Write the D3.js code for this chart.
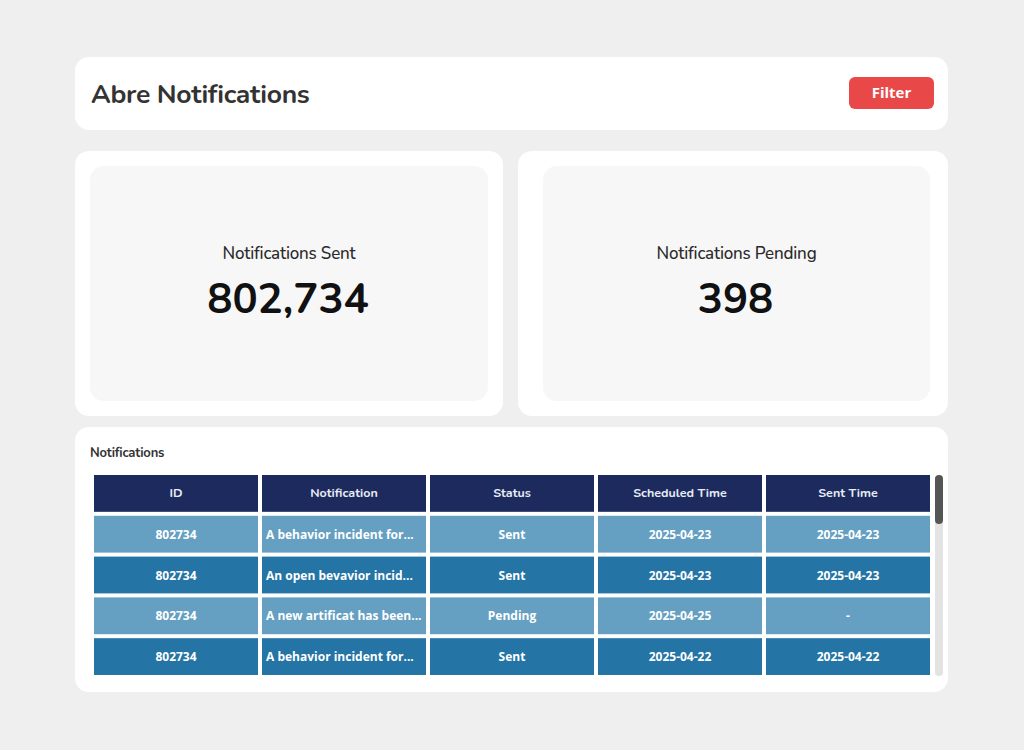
<!DOCTYPE html>
<html>
<head>
<meta charset="utf-8">
<script src="https://cdn.jsdelivr.net/npm/d3@7"></script>
<style>
  html, body { margin: 0; padding: 0; background: #efefef; }
  svg { display: block; }
</style>
</head>
<body>
<script>
// ---- data ----
var pageTitle = "Abre Notifications";
var kpiLabels = ["Notifications Sent", "Notifications Pending"];
var kpiValues = [802734, 398];
var columns = ["ID", "Notification", "Status", "Scheduled Time", "Sent Time"];
var ids = ["802734", "802734", "802734", "802734"];
var messages = ["A behavior incident for...", "An open bevavior incid...", "A new artificat has been...", "A behavior incident for..."];
var statuses = ["Sent", "Sent", "Pending", "Sent"];
var scheduled = ["2025-04-23", "2025-04-23", "2025-04-25", "2025-04-22"];
var sentTimes = ["2025-04-23", "2025-04-23", "-", "2025-04-22"];

var w = 1024, h = 750;
var titleFont = "Nunito, Lato, 'Noto Sans', sans-serif";
var cellFont = "'Open Sans', 'Noto Sans', sans-serif";

var svg = d3.select("body").append("svg")
  .attr("width", w)
  .attr("height", h);

svg.append("rect").attr("width", w).attr("height", h).attr("fill", "#efefef");

// header card
svg.append("rect")
  .attr("x", 75).attr("y", 57).attr("width", 873).attr("height", 73)
  .attr("rx", 14).attr("fill", "#fff");
svg.append("text")
  .attr("x", 91).attr("y", 103)
  .attr("font-family", titleFont).attr("font-weight", 700)
  .attr("font-size", 26.5).attr("fill", "#333")
  .attr("letter-spacing", -0.3)
  .text(pageTitle);
svg.append("rect")
  .attr("x", 849).attr("y", 77).attr("width", 85).attr("height", 32)
  .attr("rx", 6).attr("fill", "#e84848");
svg.append("text")
  .attr("x", 891.5).attr("y", 98)
  .attr("text-anchor", "middle")
  .attr("font-family", cellFont).attr("font-weight", 700)
  .attr("font-size", 15).attr("fill", "#fff")
  .text("Filter");

// KPI cards
var kpiCards = [
  {x: 75, w: 428, ix: 90, iw: 398},
  {x: 518, w: 430, ix: 543, iw: 387}
];
var fmt = d3.format(",");
var kpi = svg.selectAll("g.kpi")
  .data(kpiLabels)
  .enter().append("g").attr("class", "kpi");
kpi.append("rect")
  .attr("x", function(d, i) { return kpiCards[i].x; })
  .attr("y", 151).attr("width", function(d, i) { return kpiCards[i].w; })
  .attr("height", 265).attr("rx", 14).attr("fill", "#fff");
kpi.append("rect")
  .attr("x", function(d, i) { return kpiCards[i].ix; })
  .attr("y", 166).attr("width", function(d, i) { return kpiCards[i].iw; })
  .attr("height", 235).attr("rx", 14).attr("fill", "#f7f7f7");
kpi.append("text")
  .attr("x", function(d, i) { return kpiCards[i].ix + kpiCards[i].iw / 2; })
  .attr("y", 259).attr("text-anchor", "middle")
  .attr("font-family", titleFont).attr("font-weight", 500)
  .attr("font-size", 17).attr("fill", "#2a2a2a")
  .attr("letter-spacing", -0.2)
  .text(function(d) { return d; });
kpi.append("text")
  .attr("x", function(d, i) { return kpiCards[i].ix + kpiCards[i].iw / 2 - 1; })
  .attr("y", 313).attr("text-anchor", "middle")
  .attr("font-family", titleFont).attr("font-weight", 700)
  .attr("font-size", 42).attr("fill", "#111")
  .text(function(d, i) { return fmt(kpiValues[i]); });

// table card
svg.append("rect")
  .attr("x", 75).attr("y", 427).attr("width", 873).attr("height", 265)
  .attr("rx", 14).attr("fill", "#fff");
svg.append("text")
  .attr("x", 90).attr("y", 457)
  .attr("font-family", titleFont).attr("font-weight", 700)
  .attr("font-size", 13).attr("fill", "#333")
  .attr("letter-spacing", -0.2)
  .text("Notifications");

var rows = ids.map(function(id, i) {
  return [id, messages[i], statuses[i], scheduled[i], sentTimes[i]];
});

var xScale = d3.scaleBand()
  .domain(columns)
  .range([94, 930])
  .paddingInner(4 / 168);
var yScale = d3.scaleBand()
  .domain(d3.range(rows.length + 1))
  .range([475, 675])
  .paddingInner(4 / 41);

// header row
var head = svg.append("g").attr("class", "thead");
head.selectAll("rect")
  .data(columns).enter().append("rect")
  .attr("x", function(d) { return xScale(d); })
  .attr("y", yScale(0))
  .attr("width", xScale.bandwidth())
  .attr("height", yScale.bandwidth())
  .attr("fill", "#1d2a5d");
head.selectAll("text")
  .data(columns).enter().append("text")
  .attr("x", function(d) { return xScale(d) + xScale.bandwidth() / 2; })
  .attr("y", yScale(0) + yScale.bandwidth() / 2 + 4)
  .attr("text-anchor", "middle")
  .attr("font-family", titleFont).attr("font-weight", 700)
  .attr("font-size", 12.5).attr("fill", "#e8ecf4")
  .text(function(d) { return d; });

// body rows
var rowColors = ["#659fc1", "#2474a5"];
var row = svg.selectAll("g.row")
  .data(rows).enter().append("g").attr("class", "row");
row.selectAll("rect")
  .data(function(d, i) { return d.map(function(v, j) { return {v: v, r: i, c: columns[j]}; }); })
  .enter().append("rect")
  .attr("x", function(d) { return xScale(d.c); })
  .attr("y", function(d) { return yScale(d.r + 1); })
  .attr("width", xScale.bandwidth())
  .attr("height", yScale.bandwidth())
  .attr("fill", function(d) { return rowColors[d.r % 2]; });
row.selectAll("text")
  .data(function(d, i) { return d.map(function(v, j) { return {v: v, r: i, c: columns[j]}; }); })
  .enter().append("text")
  .attr("x", function(d) {
    return d.c === "Notification" ? xScale(d.c) + 4 : xScale(d.c) + xScale.bandwidth() / 2;
  })
  .attr("y", function(d) { return yScale(d.r + 1) + yScale.bandwidth() / 2 + 4.5; })
  .attr("text-anchor", function(d) { return d.c === "Notification" ? "start" : "middle"; })
  .attr("font-family", cellFont).attr("font-weight", 700)
  .attr("font-size", 12).attr("fill", "#fff")
  .text(function(d) { return d.v; });

// scrollbar
svg.append("rect")
  .attr("x", 935).attr("y", 475).attr("width", 8).attr("height", 201)
  .attr("rx", 4).attr("fill", "#e3e3e3");
svg.append("rect")
  .attr("x", 935).attr("y", 475).attr("width", 8).attr("height", 49)
  .attr("rx", 4).attr("fill", "#555");
</script>
</body>
</html>
